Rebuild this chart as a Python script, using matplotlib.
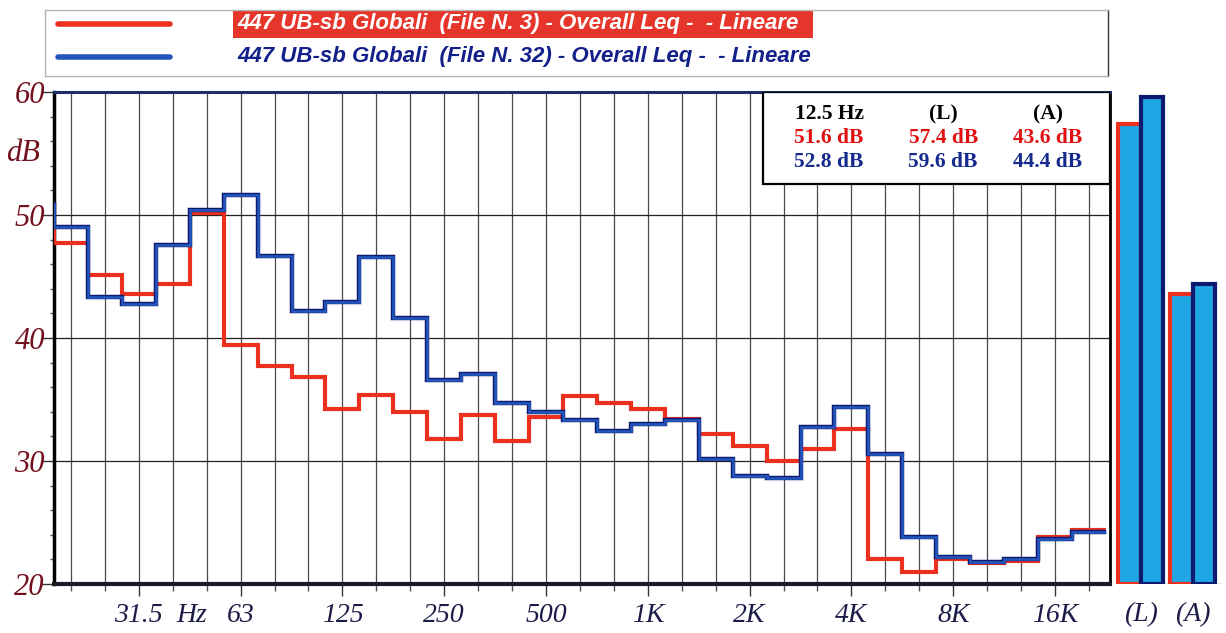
import numpy as np
from matplotlib import pyplot as plt
from matplotlib.patches import Rectangle

plt.rcParams['font.family'] = ['Liberation Serif', 'DejaVu Serif']

# bande di 1/3 d'ottava (16 Hz resta fuori scala a sinistra)
bande = ['16', '20', '25', '31.5', '40', '50', '63', '80', '100', '125', '160', '200',
         '250', '315', '400', '500', '630', '800', '1K', '1.25K', '1.6K', '2K', '2.5K',
         '3.15K', '4K', '5K', '6.3K', '8K', '10K', '12.5K', '16K', '20K']
etichette = ['31.5', '63', '125', '250', '500', '1K', '2K', '4K', '8K', '16K']

# Leq per banda - File N. 3 (rosso) e File N. 32 (blu)
leq_file3 = [48.8, 47.75, 45.1, 43.6, 44.4, 50.2, 39.4, 37.7, 36.8, 34.2, 35.4, 34.0,
             31.8, 33.7, 31.6, 33.6, 35.3, 34.7, 34.2, 33.4, 32.2, 31.2, 30.0,
             31.0, 32.6, 22.05, 21.0, 22.0, 21.7, 21.9, 23.85, 24.4]
leq_file32 = [50.9, 49.05, 43.3, 42.75, 47.6, 50.4, 51.6, 46.7, 42.2, 42.9, 46.6, 41.6,
              36.6, 37.1, 34.7, 34.0, 33.3, 32.4, 33.0, 33.3, 30.2, 28.8, 28.6,
              32.8, 34.4, 30.6, 23.85, 22.2, 21.75, 22.0, 23.65, 24.25]

# valori al cursore e globali
cursore = '12.5 Hz'
colonne = ['(L)', '(A)']
cur_file3 = 51.6
cur_file32 = 52.8
glob_file3 = [57.4, 43.6]
glob_file32 = [59.6, 44.4]

legenda = ['447 UB-sb Globali  (File N. 3) - Overall Leq -  - Lineare',
           '447 UB-sb Globali  (File N. 32) - Overall Leq -  - Lineare']

ROSSO = '#ec3020'
BLU = '#2456bc'
NAVY = '#0c1a70'
CIANO = '#1fa6e4'
COL_Y = '#74111f'
COL_X = '#1c1c48'

fig = plt.figure(figsize=(12.26, 6.33), dpi=100)
W, H = 1226, 633

def box(x0, y0, x1, y1):
    return [x0 / W, 1 - y1 / H, (x1 - x0) / W, (y1 - y0) / H]

# ---- grafico principale
ax = fig.add_axes(box(54, 92, 1110, 584))
x = np.arange(len(bande))
bordi = np.arange(len(bande) + 1) - 0.5
ax.stairs(leq_file3, bordi, baseline=None, color=ROSSO, lw=3, zorder=3)
ax.stairs(leq_file32, bordi, baseline=None, color=NAVY, lw=3.2, zorder=4)
ax.stairs(leq_file32, bordi, baseline=None, color=BLU, lw=1.9, zorder=5)

ax.set_xlim(0.5, 31.62)
ax.set_ylim(20, 60)

pos = [bande.index(e) for e in etichette]
ax.set_xticks(pos, etichette)
ax.set_xticks(x[1:], minor=True)
ax.set_yticks([20, 30, 40, 50, 60])
ax.set_yticks(np.arange(20, 61, 2), minor=True)
ax.grid(axis='x', which='both', color='#4a4a4a', lw=0.9)
ax.grid(axis='y', which='major', color='#222222', lw=0.9)
ax.set_axisbelow(True)

ax.tick_params(axis='x', which='major', direction='out', length=8.5, width=1, color='#333333',
               pad=5, labelsize=20, labelcolor=COL_X)
ax.tick_params(axis='x', which='minor', direction='out', length=5, width=1, color='#555555')
ax.tick_params(axis='y', which='major', direction='out', length=9.5, width=1, color='#333333',
               pad=-3, labelsize=22, labelcolor=COL_Y)
ax.tick_params(axis='y', which='minor', direction='out', length=3, width=1, color='#555555')
for t in ax.get_xticklabels() + ax.get_yticklabels():
    t.set_fontstyle('italic')

ax.annotate('Hz', xy=(bande.index('31.5') + 1.55, 0), xycoords=ax.get_xaxis_transform(),
            xytext=(0, -13.5), textcoords='offset points', ha='center', va='top',
            fontsize=20, style='italic', color=COL_X)
ax.text(-0.013, 55, 'dB', transform=ax.get_yaxis_transform(), ha='right', va='center',
        fontsize=22, style='italic', color=COL_Y)

ax.spines['left'].set_linewidth(2.5)
ax.spines['left'].set_color('black')
ax.spines['bottom'].set_linewidth(3)
ax.spines['bottom'].set_color('#1a1a2a')
ax.spines['top'].set_linewidth(2.2)
ax.spines['top'].set_color('#1d2f6a')
ax.spines['right'].set_linewidth(2)
ax.spines['right'].set_color('black')

# riquadro valori al cursore
ax.add_patch(Rectangle((0.671, 0.813), 0.329, 0.187, transform=ax.transAxes,
                       facecolor='white', edgecolor='black', lw=1.6, zorder=6))
xc = [0.734, 0.842, 0.941]
righe = [
    ([cursore] + colonne, 'black'),
    (['%.1f dB' % v for v in [cur_file3] + glob_file3], '#e01010'),
    (['%.1f dB' % v for v in [cur_file32] + glob_file32], '#142a8c'),
]
for yy, (testi, col) in zip([0.955, 0.9065, 0.858], righe):
    for xx, s in zip(xc, testi):
        ax.text(xx, yy, s, transform=ax.transAxes, ha='center', va='center',
                fontsize=15.5, fontweight='bold', color=col, zorder=7)

# ---- barre globali (L) e (A)
axb = fig.add_axes(box(1116, 92, 1222, 584))
gruppi = np.array([1.0, 3.3])
axb.bar(gruppi - 0.5, np.array(glob_file3) - 20, bottom=20, width=1, color=CIANO,
        edgecolor=ROSSO, lw=3, zorder=2)
axb.bar(gruppi + 0.5, np.array(glob_file32) - 20, bottom=20, width=1, color=CIANO,
        edgecolor=NAVY, lw=3, zorder=3)
axb.set_xlim(-0.1, 4.6)
axb.set_ylim(20, 60)
axb.axhline(20, color='#999999', lw=1, zorder=1)
axb.set_yticks([])
axb.set_xticks(gruppi, colonne)
axb.tick_params(axis='x', length=0, pad=13, labelsize=20, labelcolor=COL_X)
for t in axb.get_xticklabels():
    t.set_fontstyle('italic')
for s in axb.spines.values():
    s.set_visible(False)

# ---- legenda
axl = fig.add_axes(box(45, 10, 1108, 76))
axl.set_xlim(0, 1)
axl.set_ylim(0, 1)
axl.set_xticks([])
axl.set_yticks([])
for s in axl.spines.values():
    s.set_color('#b4b4b4')
    s.set_linewidth(1)
axl.spines['right'].set_color('#333333')
axl.add_patch(Rectangle((0.177, 0.576), 0.5455, 0.424, facecolor='#e6352a', edgecolor='none'))
axl.plot([0.012, 0.118], [0.79, 0.79], color=ROSSO, lw=4, solid_capstyle='round')
axl.plot([0.012, 0.118], [0.29, 0.29], color=BLU, lw=4, solid_capstyle='round')
axl.text(0.181, 0.79, legenda[0], ha='left', va='center', fontsize=16, color='white',
         fontweight='bold', style='italic', family=['Liberation Sans', 'DejaVu Sans'])
axl.text(0.181, 0.29, legenda[1], ha='left', va='center', fontsize=16, color='#14208a',
         fontweight='bold', style='italic', family=['Liberation Sans', 'DejaVu Sans'])

plt.savefig('out.png', dpi=100)
